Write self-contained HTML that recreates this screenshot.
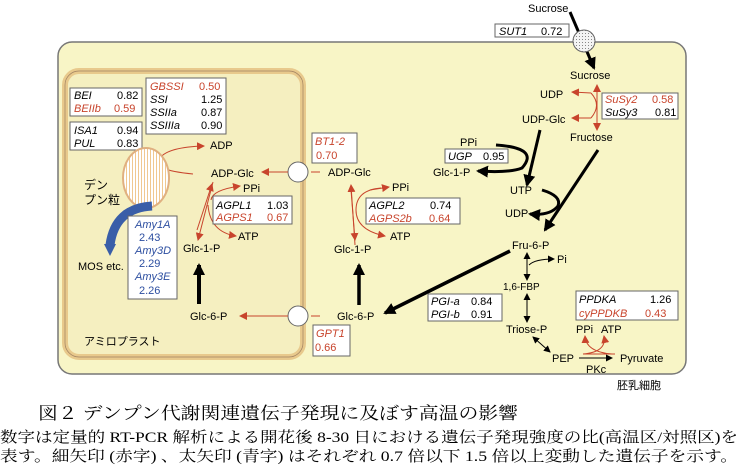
<!DOCTYPE html>
<html><head><meta charset="utf-8"><style>
html,body{margin:0;padding:0;background:#fff;width:741px;height:469px;overflow:hidden}
svg text{font-family:"Liberation Sans","Noto Sans CJK JP",sans-serif;font-size:11px}
.i{font-style:italic}.r{fill:#c8442c}.b{fill:#2c4ea0}
.s{font-family:"Liberation Serif","Noto Serif CJK SC",serif}
</style></head><body>
<svg width="741" height="469" viewBox="0 0 741 469" xmlns="http://www.w3.org/2000/svg">
<defs>
<marker id="ar" markerWidth="8" markerHeight="8" refX="7" refY="4" orient="auto" markerUnits="userSpaceOnUse"><path d="M0,0 L8,4 L0,8z" fill="#c8442c"/></marker>
<marker id="ab" markerWidth="12" markerHeight="12" refX="10" refY="6" orient="auto" markerUnits="userSpaceOnUse"><path d="M0,0 L12,6 L0,12z" fill="#000"/></marker>
<marker id="as" markerWidth="7" markerHeight="7" refX="6" refY="3.5" orient="auto-start-reverse" markerUnits="userSpaceOnUse"><path d="M0,0 L7,3.5 L0,7z" fill="#000"/></marker>
<pattern id="st" width="3" height="3" patternUnits="userSpaceOnUse"><rect width="3" height="3" fill="#fff"/><rect width="1" height="3" fill="#f0c890"/></pattern>
<pattern id="dt" width="3" height="3" patternUnits="userSpaceOnUse"><rect width="3" height="3" fill="#f4f4f4"/><rect width="1" height="1" fill="#888"/></pattern>
</defs>
<rect x="58" y="42" width="628" height="332" rx="14" fill="#f8f5c6" stroke="#777" stroke-width="1.5"/>
<rect x="65" y="71" width="238" height="286" rx="14" fill="#f5efc0" stroke="#e8c98c" stroke-width="6"/>
<rect x="65" y="71" width="238" height="286" rx="14" fill="none" stroke="#a08060" stroke-width="0.7"/>
<!-- circles -->
<circle cx="298" cy="172" r="10" fill="#fff" stroke="#666"/>
<circle cx="298" cy="316" r="10" fill="#fff" stroke="#666"/>
<!-- sucrose transport -->
<path d="M570,12 L594,68" stroke="#000" stroke-width="3" fill="none" marker-end="url(#ab)"/>
<circle cx="584" cy="41" r="11" fill="url(#dt)" stroke="#666"/>
<text x="528" y="12">Sucrose</text>
<rect x="495" y="24" width="74" height="13" fill="#fff" stroke="#666"/>
<text x="499" y="35" class="i">SUT1</text><text x="541" y="35">0.72</text>
<text x="570" y="79">Sucrose</text>
<text x="540" y="98">UDP</text>
<text x="522" y="123">UDP-Glc</text>
<text x="570" y="141">Fructose</text>
<path d="M597,120 L597,85" stroke="#c8442c" fill="none" marker-end="url(#ar)"/>
<path d="M597,100 L597,130" stroke="#c8442c" fill="none" marker-end="url(#ar)"/>
<path d="M591,93 Q602,105 591,118" stroke="#c8442c" fill="none"/>
<path d="M591,93 L572,92" stroke="#c8442c" fill="none" marker-end="url(#ar)"/>
<path d="M591,118 L572,118" stroke="#c8442c" fill="none" marker-end="url(#ar)"/>
<rect x="602" y="93" width="76" height="26" fill="#fff" stroke="#666"/>
<text x="605" y="103" class="i r">SuSy2</text><text x="652" y="103" class="r">0.58</text>
<text x="605" y="116" class="i">SuSy3</text><text x="655" y="116">0.81</text>
<!-- UGP -->
<path d="M540,130 L527,185" stroke="#000" stroke-width="3" fill="none" marker-end="url(#ab)"/>
<path d="M496,145 Q540,148 522,168 Q510,173 478,171" stroke="#000" stroke-width="3" fill="none" marker-end="url(#ab)"/>
<text x="460" y="146">PPi</text>
<rect x="445" y="149" width="63" height="14" fill="#fff" stroke="#666"/>
<text x="448" y="160" class="i">UGP</text><text x="483" y="160">0.95</text>
<text x="433" y="176">Glc-1-P</text>
<text x="510" y="194">UTP</text>
<text x="505" y="217">UDP</text>
<path d="M598,150 L545,230" stroke="#000" stroke-width="3" fill="none" marker-end="url(#ab)"/>
<path d="M542,190 Q562,196 558,206 Q550,216 530,214" stroke="#000" stroke-width="3" fill="none" marker-end="url(#ab)"/>
<text x="512" y="249">Fru-6-P</text>
<path d="M510,251 L385,313" stroke="#000" stroke-width="3.5" fill="none" marker-end="url(#ab)"/>
<path d="M527,253 L527,280" stroke="#000" fill="none" marker-start="url(#as)" marker-end="url(#as)"/>
<path d="M529,265 Q535,259 554,259" stroke="#000" fill="none" marker-end="url(#as)"/>
<text x="557" y="263">Pi</text>
<text x="503" y="290" style="font-size:10px">1,6-FBP</text>
<path d="M527,294 L527,322" stroke="#000" fill="none" marker-start="url(#as)" marker-end="url(#as)"/>
<text x="506" y="333">Triose-P</text>
<path d="M533,337 L550,352" stroke="#000" fill="none" marker-start="url(#as)" marker-end="url(#as)"/>
<text x="552" y="362">PEP</text>
<text x="620" y="362">Pyruvate</text>
<path d="M579,358 L612,358" stroke="#000" fill="none" marker-end="url(#as)"/>
<text x="586" y="373">PKc</text>
<path d="M583,354 L615,354" stroke="#c8442c" fill="none"/>
<path d="M583,354 Q607,352 604,336" stroke="#c8442c" fill="none" marker-end="url(#ar)"/>
<path d="M612,354 Q586,352 585,336" stroke="#c8442c" fill="none" marker-end="url(#ar)"/>
<text x="576" y="333">PPi</text><text x="601" y="333">ATP</text>
<rect x="576" y="291" width="102" height="29" fill="#fff" stroke="#666"/>
<text x="579" y="303" class="i">PPDKA</text><text x="650" y="303">1.26</text>
<text x="579" y="317" class="i r">cyPPDKB</text><text x="645" y="317" class="r">0.43</text>
<rect x="428" y="294" width="74" height="27" fill="#fff" stroke="#666"/>
<text x="431" y="305" class="i">PGI-a</text><text x="471" y="305">0.84</text>
<text x="431" y="318" class="i">PGI-b</text><text x="471" y="318">0.91</text>
<text x="617" y="389">胚乳細胞</text>
<!-- middle -->
<path d="M320,172 L311,172" stroke="#c8442c" fill="none"/>
<path d="M320,316 L311,316" stroke="#c8442c" fill="none"/>
<rect x="312" y="133" width="45" height="30" fill="#fff" stroke="#666"/>
<text x="315" y="145" class="i r">BT1-2</text><text x="316" y="159" class="r">0.70</text>
<text x="328" y="176">ADP-Glc</text>
<text x="392" y="191">PPi</text>
<text x="390" y="240">ATP</text>
<path d="M355,245 L351,185" stroke="#c8442c" fill="none" marker-end="url(#ar)"/>
<path d="M351,190 L355,240" stroke="#c8442c" fill="none" marker-end="url(#ar)"/>
<path d="M381,188 Q356,190 356,210 Q356,230 385,236" stroke="#c8442c" fill="none" marker-end="url(#ar)"/>
<path d="M370,190 L389,187" stroke="#c8442c" fill="none" marker-end="url(#ar)"/>
<rect x="366" y="198" width="94" height="26" fill="#fff" stroke="#666"/>
<text x="369" y="209" class="i">AGPL2</text><text x="430" y="209">0.74</text>
<text x="369" y="222" class="i r">AGPS2b</text><text x="429" y="222" class="r">0.64</text>
<text x="334" y="253">Glc-1-P</text>
<path d="M359,305 L359,265" stroke="#000" stroke-width="3.5" fill="none" marker-end="url(#ab)"/>
<text x="337" y="320">Glc-6-P</text>
<rect x="313" y="325" width="37" height="31" fill="#fff" stroke="#666"/>
<text x="316" y="337" class="i r">GPT1</text><text x="315" y="351" class="r">0.66</text>
<!-- amyloplast -->
<path d="M288,172 L262,172" stroke="#c8442c" fill="none" marker-end="url(#ar)"/>
<path d="M288,316 L240,316" stroke="#c8442c" fill="none" marker-end="url(#ar)"/>
<rect x="70" y="88" width="72" height="28" fill="#fff" stroke="#666"/>
<text x="74" y="99" class="i">BEI</text><text x="117" y="99">0.82</text>
<text x="74" y="112" class="i r">BEIIb</text><text x="114" y="112" class="r">0.59</text>
<rect x="70" y="122" width="72" height="28" fill="#fff" stroke="#666"/>
<text x="74" y="134" class="i">ISA1</text><text x="117" y="134">0.94</text>
<text x="74" y="147" class="i">PUL</text><text x="117" y="147">0.83</text>
<rect x="146" y="78" width="80" height="56" fill="#fff" stroke="#666"/>
<text x="150" y="90" class="i r">GBSSI</text><text x="199" y="90" class="r">0.50</text>
<text x="150" y="103" class="i">SSI</text><text x="201" y="103">1.25</text>
<text x="150" y="116" class="i">SSIIa</text><text x="201" y="116">0.87</text>
<text x="150" y="129" class="i">SSIIIa</text><text x="201" y="129">0.90</text>
<text x="210" y="149">ADP</text>
<text x="211" y="177">ADP-Glc</text>
<text x="243" y="192">PPi</text>
<text x="238" y="240">ATP</text>
<text x="183" y="252">Glc-1-P</text>
<text x="190" y="320">Glc-6-P</text>
<path d="M193,174 Q150,170 160,158 Q168,147 204,146" stroke="#c8442c" fill="none" marker-end="url(#ar)"/>
<ellipse cx="146" cy="178" rx="23" ry="30" fill="url(#st)" stroke="#e0b080" stroke-width="2"/>
<path d="M213,182 L198,240" stroke="#c8442c" fill="none" marker-end="url(#ar)"/>
<path d="M197,230 L212,184" stroke="#c8442c" fill="none" marker-end="url(#ar)"/>
<path d="M211,200 Q212,190 240,186" stroke="#c8442c" fill="none" marker-end="url(#ar)"/>
<path d="M208,205 Q210,232 236,236" stroke="#c8442c" fill="none" marker-end="url(#ar)"/>
<rect x="213" y="196" width="79" height="28" fill="#fff" stroke="#666"/>
<text x="216" y="209" class="i">AGPL1</text><text x="267" y="209">1.03</text>
<text x="216" y="221" class="i r">AGPS1</text><text x="267" y="221" class="r">0.67</text>
<path d="M199,304 L199,265" stroke="#000" stroke-width="4" fill="none" marker-end="url(#ab)"/>
<path d="M152,206 Q115,208 110,245" stroke="#3a5ea8" stroke-width="9" fill="none"/>
<path d="M104,244 L116,244 L110,256z" fill="#3a5ea8"/>
<text x="84" y="189" style="font-size:12px">デン</text>
<text x="84" y="204" style="font-size:12px">プン粒</text>
<text x="78" y="270">MOS etc.</text>
<rect x="128" y="216" width="49" height="83" fill="#fff" stroke="#666"/>
<text x="135" y="228" class="i b">Amy1A</text><text x="139" y="241" class="b">2.43</text>
<text x="135" y="254" class="i b">Amy3D</text><text x="139" y="267" class="b">2.29</text>
<text x="135" y="280" class="i b">Amy3E</text><text x="139" y="294" class="b">2.26</text>
<text x="84" y="345">アミロプラスト</text>
<!-- caption -->
<text x="38" y="419" class="s" style="font-size:17px" textLength="480" lengthAdjust="spacingAndGlyphs">図２ デンプン代謝関連遺伝子発現に及ぼす高温の影響</text>
<text x="0" y="442" class="s" style="font-size:15px" textLength="738" lengthAdjust="spacingAndGlyphs">数字は定量的 RT-PCR 解析による開花後 8-30 日における遺伝子発現強度の比(高温区/対照区)を</text>
<text x="0" y="461" class="s" style="font-size:15px" textLength="738" lengthAdjust="spacingAndGlyphs">表す。細矢印 (赤字) 、太矢印 (青字) はそれぞれ 0.7 倍以下 1.5 倍以上変動した遺伝子を示す。</text>
</svg>
</body></html>
